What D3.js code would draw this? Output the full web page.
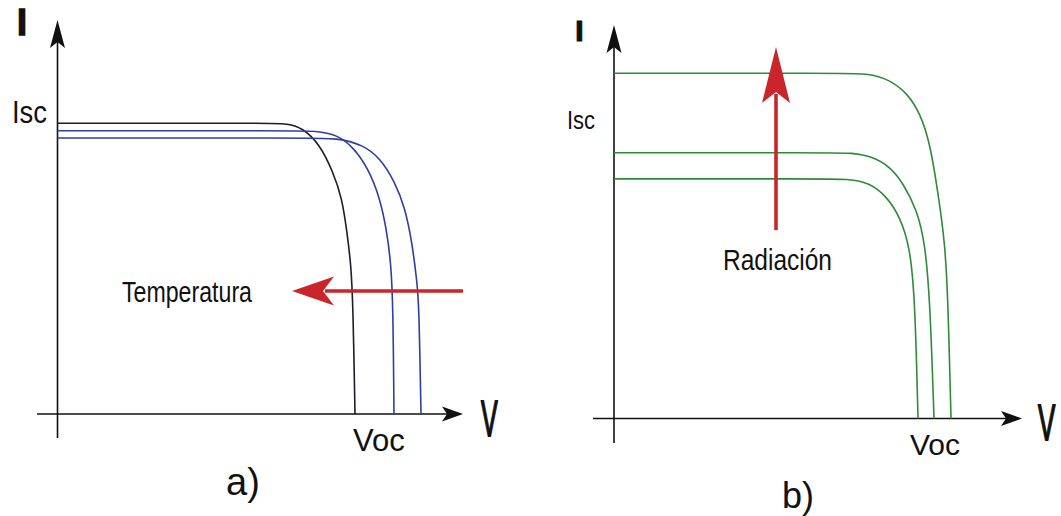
<!DOCTYPE html>
<html>
<head>
<meta charset="utf-8">
<script src="https://cdn.jsdelivr.net/npm/d3@7"></script>
<style>
  html, body { margin: 0; padding: 0; background: #fff; }
  svg { display: block; }
  text { font-family: "Liberation Sans", Arial, sans-serif; fill: #111; }
</style>
</head>
<body>
<svg id="chart" width="1061" height="516"></svg>
<script>
// I-V curves of a solar cell: (a) effect of temperature, (b) effect of irradiance.
// Values are in arbitrary units: V (voltage), I (current).

// Panel a: one curve per temperature (coolest first)
const tempCold = [[0,7.27],[20.0,7.27],[22.95,7.27],[24.55,7.15],[26.25,6.73],[27.55,6.05],[28.45,5.40],[28.95,4.55],[29.35,3.73],[29.55,2.73],[29.75,0]];
const tempMid  = [[0,7.08],[23.0,7.08],[25.95,7.08],[27.95,6.98],[29.55,6.68],[31.05,6.15],[32.25,5.40],[32.95,4.55],[33.35,3.73],[33.55,2.73],[33.65,0]];
const tempHot  = [[0,6.90],[25.0,6.90],[27.95,6.90],[30.55,6.73],[32.25,6.40],[33.75,5.80],[34.75,5.15],[35.45,4.30],[35.95,3.30],[36.15,2.73],[36.35,0]];
const tempColors = ["#1c1c2e", "#2f3f9f", "#2f3f9f"];

// Panel b: one curve per irradiance level (highest first)
const radHigh = [[0,8.63],[22.6,8.63],[25.6,8.63],[27.6,8.46],[29.3,8.14],[30.6,7.64],[31.6,6.89],[32.4,5.64],[33.1,4.39],[33.4,2.96],[33.7,0]];
const radMid  = [[0,6.645],[21.0,6.645],[23.9,6.645],[25.9,6.54],[27.6,6.29],[28.9,5.89],[30.3,5.21],[31.1,4.39],[31.6,2.96],[32.0,0]];
const radLow  = [[0,5.99],[20.5,5.99],[23.4,5.99],[25.6,5.89],[27.3,5.54],[28.6,5.04],[29.6,4.29],[30.1,2.96],[30.4,0]];
const radColor = "#2e8b3a";

// Trend arrows: [start, tip] in data units
const tempArrow = [[40.55,3.075],[23.45,3.075]];
const radArrow  = [[16.2,4.71],[16.2,9.29]];

// Labels
const axisLabels = { current: "I", voltage: "V" };
const pointLabels = { isc: "Isc", voc: "Voc" };
const arrowLabels = ["Temperatura", "Radiación"];
const panelLabels = ["a)", "b)"];

const red = "#c9252b";
const svg = d3.select("#chart");

// scales for each panel
const xA = d3.scaleLinear().domain([0, 40]).range([57.5, 457.5]);
const yA = d3.scaleLinear().domain([0, 10]).range([414, 14]);
const xB = d3.scaleLinear().domain([0, 40]).range([614, 1014]);
const yB = d3.scaleLinear().domain([0, 10]).range([418.5, 18.5]);

// notched arrowhead pointing in the +x direction, tip at origin
function headPath(len, half, notch) {
  return `M0,0 L${-len},${-half} L${-notch},0 L${-len},${half} Z`;
}

function drawAxes(g, x, y, xExt, yExt) {
  const x0 = x(0), y0 = y(0);
  const xEnd = x(xExt[1]), yEnd = y(yExt[1]);
  g.append("line")
    .attr("x1", x(xExt[0])).attr("x2", xEnd - 8)
    .attr("y1", y0).attr("y2", y0)
    .attr("stroke", "#111").attr("stroke-width", 1.6);
  g.append("line")
    .attr("x1", x0).attr("x2", x0)
    .attr("y1", y(yExt[0])).attr("y2", yEnd + 8)
    .attr("stroke", "#111").attr("stroke-width", 1.6);
  g.append("path")
    .attr("d", headPath(21, 7.5, 16))
    .attr("transform", `translate(${xEnd},${y0})`)
    .attr("fill", "#111");
  g.append("path")
    .attr("d", headPath(28, 7.5, 22))
    .attr("transform", `translate(${x0},${yEnd}) rotate(-90)`)
    .attr("fill", "#111");
}

function drawCurves(g, x, y, series, colors) {
  const line = d3.line()
    .x(d => x(d[0])).y(d => y(d[1]))
    .curve(d3.curveBasis);
  g.selectAll("path.curve")
    .data(series)
    .join("path")
    .attr("class", "curve")
    .attr("d", line)
    .attr("fill", "none")
    .attr("stroke", (d, i) => colors[i])
    .attr("stroke-width", 1.6);
}

function drawTrendArrow(g, x, y, arrow, len, half, notch) {
  const [s, t] = arrow;
  const sx = x(s[0]), sy = y(s[1]), tx = x(t[0]), ty = y(t[1]);
  const ang = Math.atan2(ty - sy, tx - sx);
  const bx = tx - Math.cos(ang) * (notch + 2), by = ty - Math.sin(ang) * (notch + 2);
  g.append("line")
    .attr("x1", sx).attr("y1", sy).attr("x2", bx).attr("y2", by)
    .attr("stroke", red).attr("stroke-width", 3.6);
  g.append("path")
    .attr("d", headPath(len, half, notch))
    .attr("transform", `translate(${tx},${ty}) rotate(${ang * 180 / Math.PI})`)
    .attr("fill", red);
}

// ---- panel a ----
const gA = svg.append("g");
drawAxes(gA, xA, yA, [-2.05, 40.55], [-0.6, 9.85]);
drawCurves(gA, xA, yA, [tempCold, tempMid, tempHot], tempColors);
drawTrendArrow(gA, xA, yA, tempArrow, 42, 14.5, 31);

gA.append("text").text(axisLabels.current)
  .attr("x", 22).attr("y", 35).attr("text-anchor", "middle")
  .attr("font-size", 36).attr("font-weight", "bold")
  .attr("stroke", "#111").attr("stroke-width", 1.4);
gA.append("text").text(pointLabels.isc)
  .attr("x", 12).attr("y", 123).attr("font-size", 32)
  .attr("textLength", 35).attr("lengthAdjust", "spacingAndGlyphs");
gA.append("text").text(pointLabels.voc)
  .attr("x", 353).attr("y", 451).attr("font-size", 31);
gA.append("text").text(axisLabels.voltage)
  .attr("transform", "translate(481,436) scale(0.5,1)")
  .attr("font-size", 50).attr("stroke", "#111").attr("stroke-width", 1.8);
gA.append("text").text(arrowLabels[0])
  .attr("x", 122).attr("y", 302).attr("font-size", 30)
  .attr("textLength", 130).attr("lengthAdjust", "spacingAndGlyphs");
gA.append("text").text(panelLabels[0])
  .attr("x", 226).attr("y", 495).attr("font-size", 38);

// ---- panel b ----
const gB = svg.append("g");
drawAxes(gB, xB, yB, [-2.1, 40.8], [-0.61, 9.84]);
drawCurves(gB, xB, yB, [radHigh, radMid, radLow], [radColor, radColor, radColor]);
drawTrendArrow(gB, xB, yB, radArrow, 56, 14, 45);

gB.append("text").text(axisLabels.current)
  .attr("x", 579.5).attr("y", 41).attr("text-anchor", "middle")
  .attr("font-size", 30).attr("font-weight", "bold")
  .attr("stroke", "#111").attr("stroke-width", 1.2);
gB.append("text").text(pointLabels.isc)
  .attr("x", 567).attr("y", 129).attr("font-size", 25)
  .attr("textLength", 28).attr("lengthAdjust", "spacingAndGlyphs");
gB.append("text").text(pointLabels.voc)
  .attr("x", 910).attr("y", 455).attr("font-size", 30);
gB.append("text").text(axisLabels.voltage)
  .attr("transform", "translate(1038,440) scale(0.52,1)")
  .attr("font-size", 50).attr("stroke", "#111").attr("stroke-width", 1.8);
gB.append("text").text(arrowLabels[1])
  .attr("x", 723).attr("y", 270).attr("font-size", 30)
  .attr("textLength", 109).attr("lengthAdjust", "spacingAndGlyphs");
gB.append("text").text(panelLabels[1])
  .attr("x", 782).attr("y", 508).attr("font-size", 36);
</script>
</body>
</html>
